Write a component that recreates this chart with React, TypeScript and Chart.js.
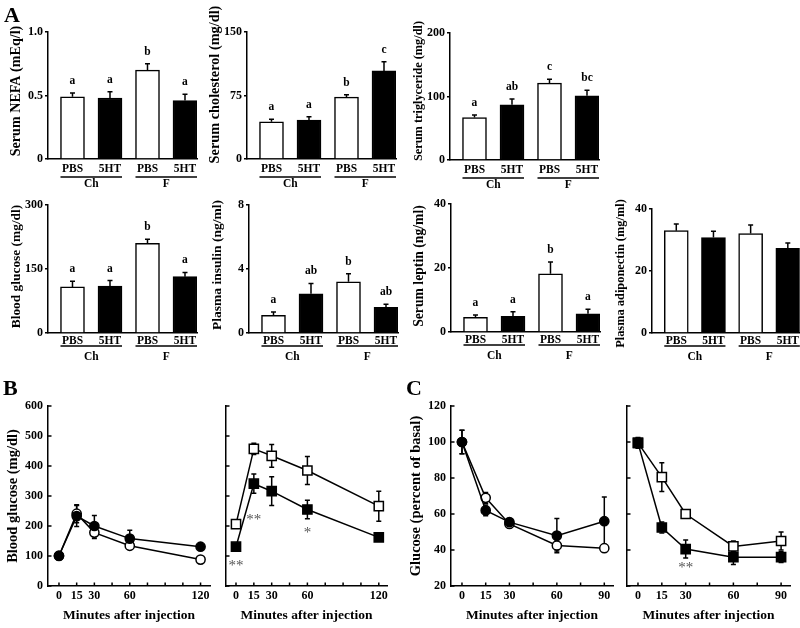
import React, { useEffect, useRef } from "react";
import { Chart, registerables } from "chart.js";

Chart.register(...registerables);

const W = 800;
const H = 628;
const SERIF = "'Liberation Serif', 'Times New Roman', Times, serif";
const INK = "#000";

// ---------- Panel A: bar charts ----------
const barCategories = ["PBS", "5HT", "PBS", "5HT"];
const dietGroups = ["Ch", "F"];
const barPositions = [1, 2, 3, 4];
const barFills = ["#ffffff", "#000000", "#ffffff", "#000000"];

const nefaMean = [0.49, 0.48, 0.7, 0.46];
const nefaErr = [0.03, 0.05, 0.05, 0.05];
const nefaLetters = ["a", "a", "b", "a"];
const nefaTicks = [0, 0.5, 1];
const nefaTickLabels = ["0", "0.5", "1.0"];

const cholMean = [44, 46, 73, 104];
const cholErr = [3, 4, 3, 11];
const cholLetters = ["a", "a", "b", "c"];
const cholTicks = [0, 75, 150];

const tgMean = [67, 87, 121, 101];
const tgErr = [4, 9, 6, 9];
const tgLetters = ["a", "ab", "c", "bc"];
const tgTicks = [0, 100, 200];

const bgMean = [108, 110, 210, 132];
const bgErr = [13, 13, 10, 10];
const bgLetters = ["a", "a", "b", "a"];
const bgTicks = [0, 150, 300];

const insMean = [1.1, 2.45, 3.2, 1.6];
const insErr = [0.22, 0.65, 0.5, 0.2];
const insLetters = ["a", "ab", "b", "ab"];
const insTicks = [0, 4, 8];

const lepMean = [4.6, 4.9, 18.2, 5.7];
const lepErr = [0.7, 1.4, 3.7, 1.4];
const lepLetters = ["a", "a", "b", "a"];
const lepTicks = [0, 20, 40];

const adipoMean = [33.0, 30.8, 32.1, 27.3];
const adipoErr = [2.2, 2.0, 2.7, 1.7];
const adipoTicks = [0, 20, 40];

// ---------- Panel B: IPGTT ----------
const ipgttMinutes = [0, 15, 30, 60, 120];
const ipgttTicks = [0, 15, 30, 45, 60, 75, 90, 105, 120];
const ipgttLabeled = [0, 15, 30, 60, 120];
const glucoseTicks = [0, 100, 200, 300, 400, 500, 600];
const chPbsGlucose = [100, 241, 178, 134, 88];
const chPbsGlucoseErr = [6, 30, 20, 6, 5];
const ch5htGlucose = [101, 233, 200, 158, 131];
const ch5htGlucoseErr = [6, 35, 35, 28, 12];
const fPbsGlucose = [206, 457, 434, 385, 266];
const fPbsGlucoseErr = [6, 19, 38, 47, 50];
const f5htGlucose = [131, 341, 316, 255, 162];
const f5htGlucoseErr = [6, 32, 48, 31, 6];
const fGlucoseSigMinutes = [0, 15, 60];
const fGlucoseSigMarks = ["**", "**", "*"];
const fGlucoseSigLevel = [77, 229, 186];

// ---------- Panel C: ITT ----------
const ittMinutes = [0, 15, 30, 60, 90];
const ittTicks = [0, 15, 30, 45, 60, 75, 90];
const ittLabeled = [0, 15, 30, 60, 90];
const pctTicks = [20, 40, 60, 80, 100, 120];
const chPbsItt = [100, 69, 54.5, 42.5, 41];
const chPbsIttErr = [6.5, 3, 2, 3, 2];
const ch5htItt = [100, 62, 55.5, 48, 56];
const ch5htIttErr = [6.5, 3, 2, 9.5, 13.5];
const fPbsItt = [99.5, 80.5, 60, 42, 45];
const fPbsIttErr = [2.5, 8, 2, 3, 5];
const f5htItt = [99.5, 52.5, 40.5, 36, 36];
const f5htIttErr = [3, 3, 5, 4, 3];
const fIttSigMinutes = [30];
const fIttSigMarks = ["**"];
const fIttSigLevel = [31.5];

const panelLetters = ["A", "B", "C"];

// ---------- helpers ----------
const BAR_W = 24;
const font = (size: number) => ({ family: SERIF, size, weight: "bold" as const });

function barConfig(s: any) {
  const yMax = s.ticks[s.ticks.length - 1];
  const labels = s.tickLabels || s.ticks.map((v: number) => String(v));
  const plugin = {
    id: "barExtras",
    afterDatasetsDraw(chart: any) {
      const { ctx } = chart;
      const xs = chart.scales.x;
      const ys = chart.scales.y;
      ctx.save();
      ctx.strokeStyle = INK;
      ctx.fillStyle = INK;
      ctx.lineWidth = 1.5;
      s.mean.forEach((m: number, i: number) => {
        const x = xs.getPixelForValue(barPositions[i]);
        const y1 = ys.getPixelForValue(m);
        const y2 = ys.getPixelForValue(m + s.err[i]);
        ctx.beginPath();
        ctx.moveTo(x, y1);
        ctx.lineTo(x, y2);
        ctx.moveTo(x - 2.5, y2);
        ctx.lineTo(x + 2.5, y2);
        ctx.stroke();
        if (s.letters) {
          ctx.font = `bold 11.5px ${SERIF}`;
          ctx.textAlign = "center";
          ctx.textBaseline = "alphabetic";
          ctx.fillText(s.letters[i], x, y2 - 9);
        }
      });
      ctx.restore();
    },
    afterDraw(chart: any) {
      const { ctx, chartArea } = chart;
      const xs = chart.scales.x;
      const bottom = chartArea.bottom;
      ctx.save();
      ctx.strokeStyle = INK;
      ctx.fillStyle = INK;
      ctx.lineWidth = 1.5;
      ctx.font = `bold 11.5px ${SERIF}`;
      ctx.textAlign = "center";
      ctx.textBaseline = "middle";
      dietGroups.forEach((g, gi) => {
        const a = xs.getPixelForValue(barPositions[gi * 2]) - BAR_W / 2;
        const b = xs.getPixelForValue(barPositions[gi * 2 + 1]) + BAR_W / 2;
        ctx.beginPath();
        ctx.moveTo(a, bottom + s.underline);
        ctx.lineTo(b, bottom + s.underline);
        ctx.stroke();
        ctx.fillText(g, (a + b) / 2, bottom + s.group);
      });
      // axis title
      ctx.translate(chartArea.left - 31.5, (chartArea.top + chartArea.bottom) / 2 + s.titleDy);
      ctx.rotate(-Math.PI / 2);
      ctx.font = `bold ${s.titleSize}px ${SERIF}`;
      ctx.fillText(s.title, 0, 0);
      ctx.restore();
    },
  };
  return {
    type: "bar",
    data: {
      datasets: [
        {
          data: s.mean.map((v: number, i: number) => ({ x: barPositions[i], y: v })),
          backgroundColor: barFills,
          borderColor: INK,
          borderWidth: 1.5,
          barThickness: BAR_W,
        },
      ],
    },
    options: {
      animation: false,
      responsive: false,
      devicePixelRatio: 1,
      events: [],
      layout: {
        padding: { left: s.axisX - 40, right: W - (s.axisX + 149), top: s.topY, bottom: H - s.bottomY - 30 },
      },
      plugins: { legend: { display: false }, tooltip: { enabled: false } },
      scales: {
        x: {
          type: "linear",
          min: 0.347,
          max: 4.32,
          offset: false,
          grid: { display: false, drawTicks: false, offset: false },
          border: { display: true, color: INK, width: 1.5 },
          afterBuildTicks: (sc: any) => {
            sc.ticks = barPositions.map((v) => ({ value: v }));
          },
          ticks: {
            callback: (_v: any, i: number) => barCategories[i],
            font: font(11.5),
            color: INK,
            padding: s.labelPad,
            maxRotation: 0,
            autoSkip: false,
          },
          afterFit: (sc: any) => {
            sc.height = 30;
          },
        },
        y: {
          min: 0,
          max: yMax,
          afterBuildTicks: (sc: any) => {
            sc.ticks = s.ticks.map((v: number) => ({ value: v }));
          },
          ticks: { callback: (_v: any, i: number) => labels[i], font: font(12), color: INK, padding: 2 },
          grid: { display: true, drawOnChartArea: false, drawTicks: true, tickLength: 3, color: INK, lineWidth: 1.5 },
          border: { display: true, color: INK, width: 1.5 },
          afterFit: (sc: any) => {
            sc.width = 40;
          },
        },
      },
    },
    plugins: [plugin],
  };
}

function lineConfig(s: any) {
  const yW = s.title ? 43.4 : 10;
  const plugin = {
    id: "lineExtras",
    beforeDatasetsDraw(chart: any) {
      const { ctx } = chart;
      const xs = chart.scales.x;
      const ys = chart.scales.y;
      ctx.save();
      ctx.strokeStyle = INK;
      ctx.lineWidth = 1.5;
      s.series.forEach((ser: any) => {
        ser.values.forEach((v: number, i: number) => {
          const x = xs.getPixelForValue(s.minutes[i]);
          const yt = ys.getPixelForValue(v + ser.err[i]);
          const yb = ys.getPixelForValue(v - ser.err[i]);
          ctx.beginPath();
          ctx.moveTo(x, yt);
          ctx.lineTo(x, yb);
          ctx.moveTo(x - 2.5, yt);
          ctx.lineTo(x + 2.5, yt);
          ctx.moveTo(x - 2.5, yb);
          ctx.lineTo(x + 2.5, yb);
          ctx.stroke();
        });
      });
      ctx.restore();
    },
    afterDraw(chart: any) {
      const { ctx, chartArea } = chart;
      const xs = chart.scales.x;
      const ys = chart.scales.y;
      ctx.save();
      ctx.strokeStyle = INK;
      ctx.lineWidth = 1.5;
      ctx.beginPath();
      xs.ticks.forEach((t: any) => {
        const px = xs.getPixelForValue(t.value);
        ctx.moveTo(px, chartArea.bottom);
        ctx.lineTo(px, chartArea.bottom - 3.5);
      });
      ys.ticks.forEach((t: any) => {
        const py = ys.getPixelForValue(t.value);
        ctx.moveTo(chartArea.left, py);
        ctx.lineTo(chartArea.left + 3.5, py);
      });
      ctx.stroke();
      if (s.sig) {
        ctx.fillStyle = "#555";
        ctx.font = `15px ${SERIF}`;
        ctx.textAlign = "center";
        ctx.textBaseline = "middle";
        s.sig.minutes.forEach((m: number, i: number) => {
          ctx.fillText(s.sig.marks[i], xs.getPixelForValue(m), ys.getPixelForValue(s.sig.level[i]) + 3);
        });
      }
      ctx.restore();
    },
  };
  return {
    type: "line",
    data: {
      datasets: s.series.map((ser: any) => ({
        data: ser.values.map((v: number, i: number) => ({ x: s.minutes[i], y: v })),
        borderColor: INK,
        borderWidth: 1.5,
        tension: 0,
        pointStyle: ser.shape,
        pointRadius: ser.shape === "rect" ? 6.5 : 4.6,
        pointBackgroundColor: ser.fill,
        pointBorderColor: INK,
        pointBorderWidth: 1.5,
        clip: false,
      })),
    },
    options: {
      animation: false,
      responsive: false,
      devicePixelRatio: 1,
      events: [],
      layout: {
        padding: { left: s.axisX - yW, right: W - s.rightX, top: s.topY, bottom: H - s.bottomY - 38 },
      },
      plugins: { legend: { display: false }, tooltip: { enabled: false } },
      scales: {
        x: {
          type: "linear",
          min: s.xMin,
          max: s.xMax,
          afterBuildTicks: (sc: any) => {
            sc.ticks = s.xTicks.map((v: number) => ({ value: v }));
          },
          ticks: {
            callback: (v: any) => (s.xLabeled.includes(v) ? String(v) : ""),
            font: font(12),
            color: INK,
            padding: 3,
            maxRotation: 0,
            autoSkip: false,
          },
          grid: { display: false, drawTicks: false },
          border: { display: true, color: INK, width: 1.5 },
          title: { display: true, text: "Minutes after injection", font: font(13.5), color: INK, padding: 0 },
          afterFit: (sc: any) => {
            sc.height = 38;
          },
        },
        y: {
          min: s.yTicks[0],
          max: s.yTicks[s.yTicks.length - 1],
          afterBuildTicks: (sc: any) => {
            sc.ticks = s.yTicks.map((v: number) => ({ value: v }));
          },
          ticks: {
            callback: (v: any) => (s.title ? String(v) : ""),
            font: font(12),
            color: INK,
            padding: 5,
          },
          grid: { display: false, drawTicks: false },
          border: { display: true, color: INK, width: 1.5 },
          title: s.title
            ? { display: true, text: s.title, font: font(14.5), color: INK, padding: 0 }
            : { display: false },
          afterFit: (sc: any) => {
            sc.width = yW;
          },
        },
      },
    },
    plugins: [plugin],
  };
}

const row1 = { topY: 32, bottomY: 159, labelPad: 3, underline: 18, group: 25.5 };
const row2 = { topY: 205, bottomY: 333, labelPad: 1, underline: 13, group: 24 };

const barSpecs = [
  { ...row1, axisX: 48, title: "Serum NEFA (mEq/l)", titleSize: 14.1, titleDy: -4.5, mean: nefaMean, err: nefaErr, letters: nefaLetters, ticks: nefaTicks, tickLabels: nefaTickLabels },
  { ...row1, axisX: 247, title: "Serum cholesterol (mg/dl)", titleSize: 14.3, titleDy: -11, mean: cholMean, err: cholErr, letters: cholLetters, ticks: cholTicks },
  { ...row1, topY: 33, bottomY: 160, axisX: 450, title: "Serum triglyceride (mg/dl)", titleSize: 12.3, titleDy: -5.5, mean: tgMean, err: tgErr, letters: tgLetters, ticks: tgTicks },
  { ...row2, axisX: 48, title: "Blood glucose (mg/dl)", titleSize: 13.4, titleDy: -2.5, mean: bgMean, err: bgErr, letters: bgLetters, ticks: bgTicks },
  { ...row2, axisX: 249, title: "Plasma insulin (ng/ml)", titleSize: 13.5, titleDy: -4, mean: insMean, err: insErr, letters: insLetters, ticks: insTicks },
  { ...row2, topY: 204, bottomY: 332, axisX: 451, title: "Serum leptin (ng/ml)", titleSize: 13.7, titleDy: -2, mean: lepMean, err: lepErr, letters: lepLetters, ticks: lepTicks },
  { ...row2, topY: 209, axisX: 652, title: "Plasma adiponectin (mg/ml)", titleSize: 12.4, titleDy: 2.5, mean: adipoMean, err: adipoErr, letters: null, ticks: adipoTicks },
];

const lineSpecs = [
  {
    axisX: 48, rightX: 210, topY: 406, bottomY: 586, xMin: -9.3, xMax: 128,
    minutes: ipgttMinutes, xTicks: ipgttTicks, xLabeled: ipgttLabeled, yTicks: glucoseTicks,
    title: "Blood glucose (mg/dl)",
    series: [
      { values: ch5htGlucose, err: ch5htGlucoseErr, shape: "circle", fill: "#000" },
      { values: chPbsGlucose, err: chPbsGlucoseErr, shape: "circle", fill: "#fff" },
    ],
  },
  {
    axisX: 226, rightX: 387, topY: 406, bottomY: 586, xMin: -8.4, xMax: 126.9,
    minutes: ipgttMinutes, xTicks: ipgttTicks, xLabeled: ipgttLabeled, yTicks: glucoseTicks,
    title: null,
    series: [
      { values: f5htGlucose, err: f5htGlucoseErr, shape: "rect", fill: "#000" },
      { values: fPbsGlucose, err: fPbsGlucoseErr, shape: "rect", fill: "#fff" },
    ],
    sig: { minutes: fGlucoseSigMinutes, marks: fGlucoseSigMarks, level: fGlucoseSigLevel },
  },
  {
    axisX: 451, rightX: 613, topY: 406, bottomY: 586, xMin: -6.94, xMax: 95.5,
    minutes: ittMinutes, xTicks: ittTicks, xLabeled: ittLabeled, yTicks: pctTicks,
    title: "Glucose (percent of basal)",
    series: [
      { values: ch5htItt, err: ch5htIttErr, shape: "circle", fill: "#000" },
      { values: chPbsItt, err: chPbsIttErr, shape: "circle", fill: "#fff" },
    ],
  },
  {
    axisX: 627, rightX: 790, topY: 406, bottomY: 586, xMin: -6.9, xMax: 95.6,
    minutes: ittMinutes, xTicks: ittTicks, xLabeled: ittLabeled, yTicks: pctTicks,
    title: null,
    series: [
      { values: f5htItt, err: f5htIttErr, shape: "rect", fill: "#000" },
      { values: fPbsItt, err: fPbsIttErr, shape: "rect", fill: "#fff" },
    ],
    sig: { minutes: fIttSigMinutes, marks: fIttSigMarks, level: fIttSigLevel },
  },
];

const canvasStyle: React.CSSProperties = { position: "absolute", left: 0, top: 0, width: W, height: H };

function ChartLayer({ config }: { config: any }) {
  const ref = useRef<HTMLCanvasElement>(null);
  useEffect(() => {
    const chart = new Chart(ref.current as HTMLCanvasElement, config);
    return () => chart.destroy();
  }, [config]);
  return <canvas ref={ref} width={W} height={H} style={canvasStyle} />;
}

function LetterLayer() {
  const ref = useRef<HTMLCanvasElement>(null);
  useEffect(() => {
    const c = ref.current as HTMLCanvasElement;
    const ctx = c.getContext("2d") as CanvasRenderingContext2D;
    ctx.clearRect(0, 0, W, H);
    ctx.fillStyle = INK;
    ctx.font = `bold 22px ${SERIF}`;
    ctx.textBaseline = "alphabetic";
    ctx.textAlign = "left";
    const pos = [
      [4, 22],
      [3, 395],
      [406, 395],
    ];
    panelLetters.forEach((l, i) => ctx.fillText(l, pos[i][0], pos[i][1]));
  }, []);
  return <canvas ref={ref} width={W} height={H} style={canvasStyle} />;
}

const barConfigs = barSpecs.map(barConfig);
const lineConfigs = lineSpecs.map(lineConfig);

export default function App() {
  return (
    <div style={{ position: "absolute", left: 0, top: 0, width: W, height: H, background: "#fff", overflow: "hidden" }}>
      {barConfigs.map((c, i) => (
        <ChartLayer key={"b" + i} config={c} />
      ))}
      {lineConfigs.map((c, i) => (
        <ChartLayer key={"l" + i} config={c} />
      ))}
      <LetterLayer />
    </div>
  );
}
